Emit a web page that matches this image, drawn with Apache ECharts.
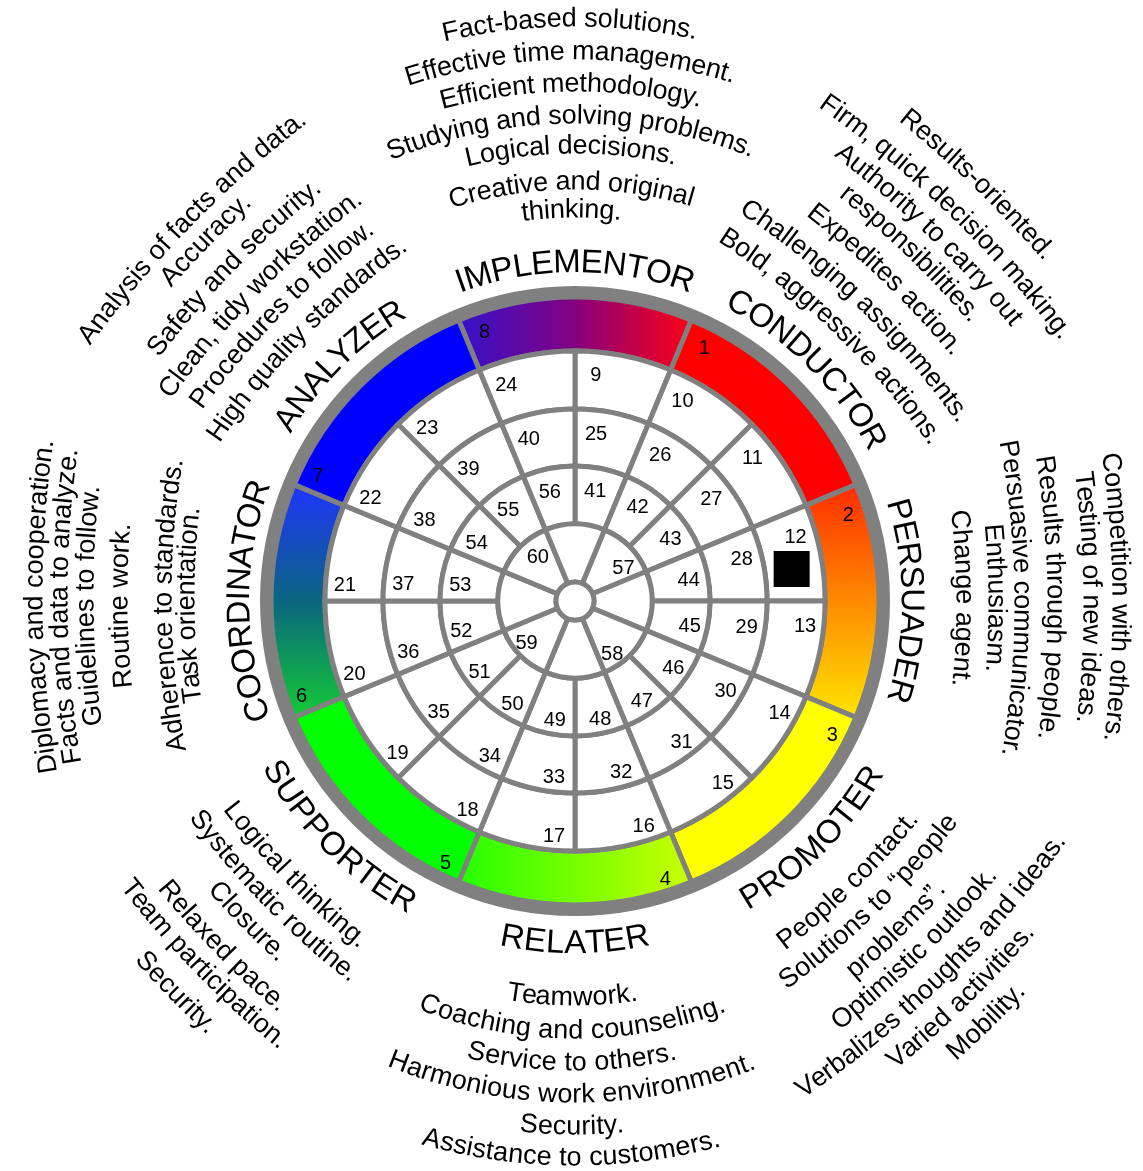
<!DOCTYPE html>
<html>
<head>
<meta charset="utf-8">
<script src="https://cdn.jsdelivr.net/npm/echarts@6/dist/echarts.min.js"></script>
<style>html,body{margin:0;padding:0;background:#fff}#c{width:1143px;height:1171px}</style>
</head>
<body>
<div id="c"></div>
<script>
// ---------------- data ----------------
const segmentNames = ['IMPLEMENTOR','CONDUCTOR','PERSUADER','PROMOTER','RELATER','SUPPORTER','COORDINATOR','ANALYZER'];
const segmentNumbers = [8,1,2,3,4,5,6,7];
const ring1Numbers = [9,10,11,12,13,14,15,16,17,18,19,20,21,22,23,24];
const ring2Numbers = [25,26,27,28,29,30,31,32,33,34,35,36,37,38,39,40];
const ring3Numbers = [41,42,43,44,45,46,47,48,49,50,51,52,53,54,55,56];
const coreNumbers = [57,58,59,60];
const resultMarker = [[219, 81.6]];

const implementorTraits = ['Fact-based solutions.','Effective time management.','Efficient methodology.','Studying and solving problems.','Logical decisions.','Creative and original','thinking.'];
const conductorTraits = ['Results-oriented.','Firm, quick decision making.','Authority to carry out','responsibilities.','Expedites action.','Challenging assignments.','Bold, aggressive actions.'];
const persuaderTraits = ['Competition with others.','Testing of new ideas.','Results through people.','Persuasive communicator.','Enthusiasm.','Change agent.'];
const promoterTraits = ['People contact.','Solutions to \u201cpeople','problems\u201d.','Optimistic outlook.','Verbalizes thoughts and ideas.','Varied activities.','Mobility.'];
const relaterTraits = ['Teamwork.','Coaching and counseling.','Service to others.','Harmonious work environment.','Security.','Assistance to customers.'];
const supporterTraits = ['Logical thinking.','Systematic routine.','Closure.','Relaxed pace.','Team participation.','Security.'];
const coordinatorTraits = ['Diplomacy and cooperation.','Facts and data to analyze.','Guidelines to follow.','Routine work.','Adherence to standards.','Task orientation.'];
const analyzerTraits = ['Analysis of facts and data.','Accuracy.','Safety and security.','Clean, tidy workstation.','Procedures to follow.','High quality standards.'];

// ---------------- layout / style ----------------
const R_MAX = 315;
const GRAY = '#808080';
const FONT_FAMILY = '"Liberation Sans", Arial, sans-serif';
const ringRadii = [19, 77, 135, 192, 250];
const colorInner = 250, colorOuter = 304, borderOuter = 315;
const segmentCenterAngles = [0,45,90,135,180,225,270,315];
const inwardFlags = [false,false,false,true,true,true,false,false];
const nameRadii = [338, 339, 336, 345, 343, 345, 335, 339];
const blockAngles = [359.5, 44, 89.6, 135.7, 180.4, 225.6, 269.4, 314.3];
const blockCurvature = [1, 2, 2, 2, 1, 2, 2, 2];
const blockRadii = [
  [582,549,517,485,455,419,391],
  [582,545,515,486,451,415,380],
  [545,516,480,447,421,389],
  [395,427,461,491,524,556,589],
  [397,430,462,494,526,557],
  [396,428,459,496,524,560],
  [540,515,489,455,411,388],
  [544,517,482,448,417,384]
];
const segmentFills = [
  {type:'linear',x:0,y:0,x2:1,y2:0,colorStops:[{offset:0,color:'#3312cc'},{offset:0.5,color:'#85007f'},{offset:1,color:'#ff0012'}]},
  '#ff0000',
  {type:'linear',x:0,y:0,x2:0,y2:1,colorStops:[{offset:0,color:'#ff2a00'},{offset:0.5,color:'#ff8a00'},{offset:1,color:'#ffe600'}]},
  '#ffff00',
  {type:'linear',x:0,y:0,x2:1,y2:0,colorStops:[{offset:0,color:'#22ff00'},{offset:1,color:'#ccff00'}]},
  '#00ff00',
  {type:'linear',x:0,y:0,x2:0,y2:1,colorStops:[{offset:0,color:'#1f33ff'},{offset:0.5,color:'#0a6680'},{offset:1,color:'#14cc33'}]},
  '#0000ff'
];

// ---------------- build items ----------------
const traitBlocks = [implementorTraits, conductorTraits, persuaderTraits, promoterTraits, relaterTraits, supporterTraits, coordinatorTraits, analyzerTraits];

const cellList = [];
const numberList = [];
const numberRings = [
  {nums: ring1Numbers, r0: ringRadii[3], r1: ringRadii[4], labelR: 231, off: 5.2},
  {nums: ring2Numbers, r0: ringRadii[2], r1: ringRadii[3], labelR: 173, off: 7},
  {nums: ring3Numbers, r0: ringRadii[1], r1: ringRadii[2], labelR: 116.5, off: 10}
];
numberRings.forEach(ring => {
  ring.nums.forEach((n, j) => {
    const a0 = 22.5 * j;
    cellList.push({r0: ring.r0, r1: ring.r1, a0: a0, a1: a0 + 22.5});
    numberList.push({text: String(n), value: [ring.labelR, a0 + ring.off]});
  });
});
for (let j = 0; j < 8; j++) {
  const a0 = 22.5 + 45 * j;
  cellList.push({r0: ringRadii[0], r1: ringRadii[1], a0: a0, a1: a0 + 45});
}
coreNumbers.forEach((n, m) => numberList.push({text: String(n), value: [61, 52.5 + 90 * m]}));
cellList.push({disk: true, r1: ringRadii[0], a0: 0, a1: 0});
segmentNumbers.forEach((n, i) => numberList.push({text: String(n), value: [288, segmentCenterAngles[i] - 22.5 + 4.2]}));

const textLines = [];
segmentNames.forEach((name, i) => {
  textLines.push({text: name, value: [nameRadii[i], segmentCenterAngles[i]], k: 1, inward: inwardFlags[i], size: 33});
  traitBlocks[i].forEach((t, j) => {
    textLines.push({text: t, value: [blockRadii[i][j], blockAngles[i]], k: blockCurvature[i], inward: inwardFlags[i], size: 27});
  });
});

// ---------------- helpers ----------------
const measureCtx = document.createElement('canvas').getContext('2d');
function charWidths(text, size) {
  measureCtx.font = size + 'px ' + FONT_FAMILY;
  const out = []; let prev = 0; let acc = '';
  for (const ch of Array.from(text)) {
    acc += ch;
    const w = measureCtx.measureText(acc).width;
    out.push(w - prev); prev = w;
  }
  return out;
}
function frame(api) {
  const c = api.coord([0, 0]);
  const e = api.coord([R_MAX, 0]);
  const s = Math.hypot(e[0] - c[0], e[1] - c[1]) / R_MAX;
  const th0 = Math.atan2(e[1] - c[1], e[0] - c[0]);
  return {cx: c[0], cy: c[1], s: s, ang: a => th0 + a * Math.PI / 180};
}

// ---------------- chart ----------------
const chart = echarts.init(document.getElementById('c'), null, {renderer: 'canvas'});
chart.setOption({
  animation: false,
  backgroundColor: '#ffffff',
  polar: {center: [575, 601], radius: R_MAX},
  angleAxis: {type: 'value', min: 0, max: 360, startAngle: 90, clockwise: true, show: false},
  radiusAxis: {type: 'value', min: 0, max: R_MAX, show: false},
  series: [
    {
      type: 'custom', name: 'segments', coordinateSystem: 'polar', silent: true,
      data: segmentNames.map((n, i) => ({name: n, value: [colorOuter, segmentCenterAngles[i]]})),
      renderItem: (params, api) => {
        const f = frame(api);
        const a = api.value(1);
        return {type: 'sector', shape: {cx: f.cx, cy: f.cy, r0: colorInner * f.s, r: api.value(0) * f.s,
          startAngle: f.ang(a - 22.5), endAngle: f.ang(a + 22.5), clockwise: true},
          style: {fill: segmentFills[params.dataIndex], stroke: GRAY, lineWidth: 5}};
      }
    },
    {
      type: 'custom', name: 'border', coordinateSystem: 'polar', silent: true,
      data: [{value: [borderOuter, 0]}],
      renderItem: (params, api) => {
        const f = frame(api);
        return {type: 'ring', shape: {cx: f.cx, cy: f.cy, r0: colorOuter * f.s, r: api.value(0) * f.s}, style: {fill: GRAY}};
      }
    },
    {
      type: 'custom', name: 'cells', coordinateSystem: 'polar', silent: true,
      data: cellList.map(c => ({value: [c.r1, (c.a0 + c.a1) / 2]})),
      renderItem: (params, api) => {
        const f = frame(api);
        const c = cellList[params.dataIndex];
        if (c.disk) {
          return {type: 'circle', shape: {cx: f.cx, cy: f.cy, r: api.value(0) * f.s}, style: {fill: '#fff', stroke: GRAY, lineWidth: 5}};
        }
        return {type: 'sector', shape: {cx: f.cx, cy: f.cy, r0: c.r0 * f.s, r: api.value(0) * f.s,
          startAngle: f.ang(c.a0), endAngle: f.ang(c.a1), clockwise: true},
          style: {fill: '#fff', stroke: GRAY, lineWidth: 5}};
      }
    },
    {
      type: 'custom', name: 'numbers', coordinateSystem: 'polar', silent: true,
      data: numberList.map(n => ({value: n.value})),
      renderItem: (params, api) => {
        const p = api.coord([api.value(0), api.value(1)]);
        return {type: 'text', x: p[0], y: p[1] + 5,
          style: {text: numberList[params.dataIndex].text, fontSize: 20, fontFamily: FONT_FAMILY, fill: '#000', align: 'center', verticalAlign: 'middle'}};
      }
    },
    {
      type: 'scatter', name: 'result', coordinateSystem: 'polar', silent: true,
      data: resultMarker, symbol: 'rect', symbolSize: 36, itemStyle: {color: '#000', opacity: 1}
    },
    {
      type: 'custom', name: 'texts', coordinateSystem: 'polar', silent: true,
      data: textLines.map(l => ({value: l.value})),
      renderItem: (params, api) => {
        const L = textLines[params.dataIndex];
        const f = frame(api);
        const r = api.value(0) * f.s;
        const th = f.ang(api.value(1));
        const R = L.k * r;
        const ccx = f.cx + (r - R) * Math.cos(th);
        const ccy = f.cy + (r - R) * Math.sin(th);
        const widths = charWidths(L.text, L.size);
        const total = widths.reduce((a, b) => a + b, 0);
        let s = -total / 2;
        const children = [];
        Array.from(L.text).forEach((ch, i) => {
          const sc = s + widths[i] / 2;
          s += widths[i];
          if (ch === ' ') return;
          const phi = sc / R;
          const t = L.inward ? th - phi : th + phi;
          const rot = L.inward ? Math.PI / 2 - t : -(t + Math.PI / 2);
          children.push({type: 'text', x: ccx + R * Math.cos(t), y: ccy + R * Math.sin(t), rotation: rot,
            style: {text: ch, fontSize: L.size, fontFamily: FONT_FAMILY, fill: '#000', align: 'center', verticalAlign: 'middle'}});
        });
        return {type: 'group', children: children};
      }
    }
  ]
});
</script>
</body>
</html>
